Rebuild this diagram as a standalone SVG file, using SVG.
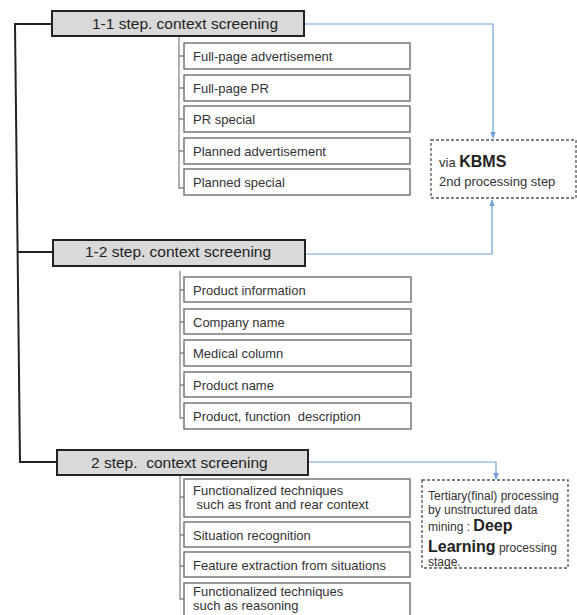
<svg xmlns="http://www.w3.org/2000/svg" width="577" height="615" viewBox="0 0 577 615">
<defs>
<marker id="arr" viewBox="0 0 10 10" refX="9" refY="5" markerWidth="7" markerHeight="7" orient="auto" markerUnits="userSpaceOnUse">
<path d="M0,1 L10,5 L0,9 z" fill="#6f9fd8"/>
</marker>
<style>
text{font-family:"Liberation Sans",Arial,sans-serif;fill:#333}
.hdr rect{fill:#d9d9d9;stroke:#222;stroke-width:2}
.hdr text{font-size:15.5px;fill:#222}
.item rect{fill:#fff;stroke:#777;stroke-width:1.5}
.item text{font-size:13px}
.small{font-size:11px}
.dash{fill:#fff;stroke:#555;stroke-width:1.3;stroke-dasharray:3,2}
.trunk{fill:none;stroke:#222;stroke-width:2}
.sub{fill:none;stroke:#888;stroke-width:1.3}
.blue{fill:none;stroke:#6f9fd8;stroke-width:1.2}
.side{font-size:12px}
.side13{font-size:13px}
.bold{font-weight:bold;fill:#222}
</style>
</defs>
<rect width="577" height="615" fill="#fff"/>

<g id="connectors">
<path class="trunk" d="M52,24 H15 L20,462 H57"/>
<path class="trunk" d="M17,252 H53"/>
<path class="sub" d="M179,36 V188 H184 M179,56 H184 M179,88 H184 M179,119 H184 M179,151 H184"/>
<path class="sub" d="M180,271 V418 H184 M180,290 H184 M180,322 H184 M180,353 H184 M180,385 H184"/>
<path class="sub" d="M180,475 V599 H184 M180,497 H184 M180,535 H184 M180,566 H184"/>
<path class="blue" d="M304,24 H493 V138" marker-end="url(#arr)"/>
<path class="blue" d="M305,254 H492 V200" marker-end="url(#arr)"/>
<path class="blue" d="M308,462 H496 V479" marker-end="url(#arr)"/>
</g>

<g id="h11" class="hdr"><rect x="52" y="11" width="252" height="25"/><text x="92" y="28.5">1-1 step. context screening</text></g>
<g id="i11a" class="item"><rect x="184" y="43" width="226" height="26"/><text x="193" y="61">Full-page advertisement</text></g>
<g id="i11b" class="item"><rect x="184" y="75" width="226" height="26"/><text x="193" y="93">Full-page PR</text></g>
<g id="i11c" class="item"><rect x="184" y="106" width="226" height="26"/><text x="193" y="124">PR special</text></g>
<g id="i11d" class="item"><rect x="184" y="138" width="226" height="26"/><text x="193" y="156">Planned advertisement</text></g>
<g id="i11e" class="item"><rect x="184" y="169" width="226" height="26"/><text x="193" y="187">Planned special</text></g>

<g id="kbms"><rect class="dash" x="431" y="140" width="145" height="58"/>
<text class="side13" x="439" y="167">via <tspan class="bold" font-size="16px">KBMS</tspan></text>
<text class="side13" x="439" y="186">2nd processing step</text></g>

<g id="h12" class="hdr"><rect x="53" y="240" width="252" height="26"/><text x="85" y="257">1-2 step. context screening</text></g>
<g id="i12a" class="item"><rect x="184" y="277" width="227" height="25"/><text x="193" y="294.5">Product information</text></g>
<g id="i12b" class="item"><rect x="184" y="309" width="227" height="25"/><text x="193" y="326.5">Company name</text></g>
<g id="i12c" class="item"><rect x="184" y="340" width="227" height="26"/><text x="193" y="358">Medical column</text></g>
<g id="i12d" class="item"><rect x="184" y="372" width="227" height="25"/><text x="193" y="389.5">Product name</text></g>
<g id="i12e" class="item"><rect x="184" y="403" width="227" height="26"/><text x="193" y="421" xml:space="preserve">Product, function  description</text></g>

<g id="h2" class="hdr"><rect x="57" y="450" width="251" height="25"/><text x="91" y="468" xml:space="preserve">2 step.  context screening</text></g>
<g id="i2a" class="item"><rect x="184" y="479" width="226" height="38"/><text class="small" x="193" y="495">Functionalized techniques</text><text class="small" x="193" y="509" xml:space="preserve"> such as front and rear context</text></g>
<g id="i2b" class="item"><rect x="184" y="522" width="226" height="25"/><text x="193" y="539.5">Situation recognition</text></g>
<g id="i2c" class="item"><rect x="184" y="552" width="226" height="25"/><text x="193" y="569.5">Feature extraction from situations</text></g>
<g id="i2d" class="item"><rect x="184" y="583" width="226" height="45"/><text class="small" x="193" y="596">Functionalized techniques</text><text class="small" x="193" y="610">such as reasoning</text></g>

<g id="tertiary"><rect class="dash" x="422" y="480" width="146" height="88"/>
<text class="side" x="428" y="500">Tertiary(final) processing</text>
<text class="side" x="428" y="514">by unstructured data</text>
<text class="side" x="428" y="531">mining : <tspan class="bold" font-size="16px">Deep</tspan></text>
<text class="side" x="428" y="552"><tspan class="bold" font-size="16px">Learning</tspan> processing</text>
<text class="side" x="428" y="566">stage.</text></g>
</svg>
